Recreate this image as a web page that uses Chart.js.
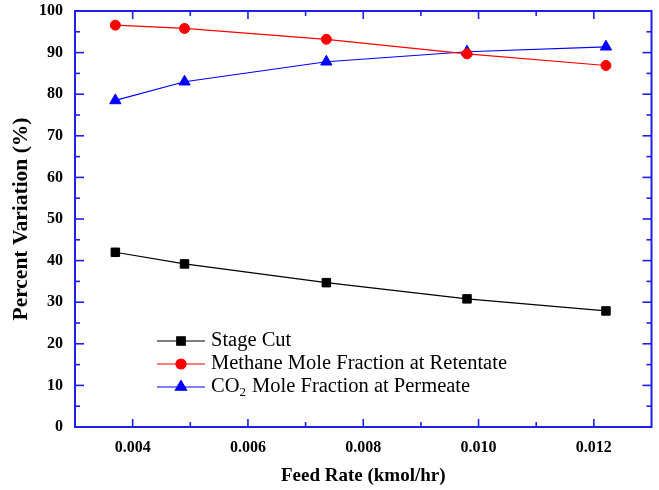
<!DOCTYPE html>
<html><head><meta charset="utf-8">
<script src="https://cdn.jsdelivr.net/npm/chart.js@4/dist/chart.umd.min.js"></script>
<style>html,body{margin:0;padding:0;background:#fff}#wrap{width:659px;height:490px}</style>
</head><body><div id="wrap"><canvas id="c" width="659" height="490"></canvas></div>
<script>
const feedRate = [0.0037, 0.0049, 0.00736, 0.0098, 0.01221];
const stageCut = [42.0, 39.2, 34.7, 30.8, 27.9];
const methaneRetentate = [96.6, 95.8, 93.2, 89.7, 86.9];
const co2Permeate = [78.5, 83.0, 87.8, 90.2, 91.4];
const xTicks = [0.004, 0.006, 0.008, 0.010, 0.012];
const xMinorTicks = [0.005, 0.007, 0.009, 0.011];
const yTicks = [0, 10, 20, 30, 40, 50, 60, 70, 80, 90, 100];
const yMinorTicks = [5, 15, 25, 35, 45, 55, 65, 75, 85, 95];
const seriesNames = ['Stage Cut', 'Methane Mole Fraction at Retentate', 'CO\u2082 Mole Fraction at Permeate'];
const xTitle = 'Feed Rate (kmol/hr)';
const yTitle = 'Percent Variation (%)';

const AXIS = '#1f1fe6';
const SERIF = '"Liberation Serif", "Times New Roman", serif';

function pts(ys) { return feedRate.map((x, i) => ({x: x, y: ys[i]})); }

const framePlugin = {
  id: 'frame',
  beforeDatasetsDraw(chart) {
    const {ctx, chartArea: a, scales: {x, y}} = chart;
    ctx.save();
    ctx.strokeStyle = AXIS;
    ctx.lineWidth = 1.6;
    const tick = (x1, y1, x2, y2) => { ctx.beginPath(); ctx.moveTo(x1, y1); ctx.lineTo(x2, y2); ctx.stroke(); };
    xTicks.forEach(v => { const p = x.getPixelForValue(v); tick(p, a.bottom, p, a.bottom - 8); tick(p, a.top, p, a.top + 8); });
    xMinorTicks.forEach(v => { const p = x.getPixelForValue(v); tick(p, a.bottom, p, a.bottom - 5); tick(p, a.top, p, a.top + 5); });
    yTicks.forEach(v => { const p = y.getPixelForValue(v); tick(a.left, p, a.left + 9, p); tick(a.right, p, a.right - 9, p); });
    yMinorTicks.forEach(v => { const p = y.getPixelForValue(v); tick(a.left, p, a.left + 5, p); tick(a.right, p, a.right - 5, p); });
    ctx.lineWidth = 2;
    ctx.strokeRect(a.left, a.top, a.right - a.left, a.bottom - a.top);
    ctx.restore();
  }
};

const legendPlugin = {
  id: 'customLegend',
  afterDraw(chart) {
    const ctx = chart.ctx;
    const x0 = 157, x1 = 205, tx = 211;
    const rows = [341, 364, 387];
    const F = '20.5px ' + SERIF;
    ctx.save();
    chart.data.datasets.forEach((ds, i) => {
      const yy = rows[i];
      ctx.strokeStyle = ds.borderColor;
      ctx.fillStyle = ds.backgroundColor;
      ctx.lineWidth = 1.2;
      ctx.beginPath(); ctx.moveTo(x0, yy); ctx.lineTo(x1, yy); ctx.stroke();
      Chart.helpers.drawPoint(ctx, {pointStyle: ds.pointStyle, radius: ds.pointRadius, borderWidth: 1}, (x0 + x1) / 2, yy);
      ctx.fillStyle = '#000';
      ctx.textBaseline = 'middle';
      ctx.textAlign = 'left';
      const name = seriesNames[i];
      const parts = name.split('\u2082');
      ctx.font = F;
      if (parts.length === 2) {
        ctx.fillText(parts[0], tx, yy);
        let w = ctx.measureText(parts[0]).width;
        ctx.font = '13px ' + SERIF;
        ctx.fillText('2', tx + w, yy + 6);
        w += ctx.measureText('2').width + 1;
        ctx.font = F;
        ctx.fillText(parts[1], tx + w, yy);
      } else {
        ctx.fillText(name, tx, yy);
      }
    });
    ctx.restore();
  }
};

new Chart(document.getElementById('c'), {
  type: 'line',
  data: {
    datasets: [
      {label: seriesNames[0], data: pts(stageCut), borderColor: '#000', backgroundColor: '#000', pointStyle: 'rect', pointRadius: 6, borderWidth: 1.2, pointBorderWidth: 1},
      {label: seriesNames[1], data: pts(methaneRetentate), borderColor: '#ff0000', backgroundColor: '#ff0000', pointStyle: 'circle', pointRadius: 5, borderWidth: 1.2, pointBorderWidth: 1},
      {label: seriesNames[2], data: pts(co2Permeate), borderColor: '#0000ff', backgroundColor: '#0000ff', pointStyle: 'triangle', pointRadius: 6.5, borderWidth: 1.2, pointBorderWidth: 1}
    ]
  },
  options: {
    responsive: false,
    devicePixelRatio: 1,
    animation: false,
    layout: {padding: {top: 11, right: 1, left: 0, bottom: 0}},
    plugins: {legend: {display: false}, tooltip: {enabled: false}},
    scales: {
      x: {
        type: 'linear', min: 0.003, max: 0.013,
        afterBuildTicks: s => { s.ticks = xTicks.map(v => ({value: v})); },
        afterFit: s => { s.height = 63; s.paddingLeft = 0; s.paddingRight = 0; },
        grid: {display: false, drawTicks: false},
        border: {display: false},
        ticks: {callback: v => Number(v).toFixed(3), color: '#000', font: {family: SERIF, size: 16, weight: 'bold'}, padding: 11, maxRotation: 0, autoSkip: false},
        title: {display: true, text: xTitle, color: '#000', font: {family: SERIF, size: 19, weight: 'bold'}, padding: {top: 0, bottom: 3}}
      },
      y: {
        type: 'linear', min: 0, max: 100,
        afterBuildTicks: s => { s.ticks = yTicks.map(v => ({value: v})); },
        afterFit: s => { s.width = 75; s.paddingTop = 0; s.paddingBottom = 0; },
        grid: {display: false, drawTicks: false},
        border: {display: false},
        ticks: {callback: v => String(v), color: '#000', font: {family: SERIF, size: 16, weight: 'bold'}, padding: 12, autoSkip: false},
        title: {display: true, text: yTitle, color: '#000', font: {family: SERIF, size: 21.5, weight: 'bold'}, padding: {top: 9, bottom: 0}}
      }
    }
  },
  plugins: [framePlugin, legendPlugin]
});
</script></body></html>
